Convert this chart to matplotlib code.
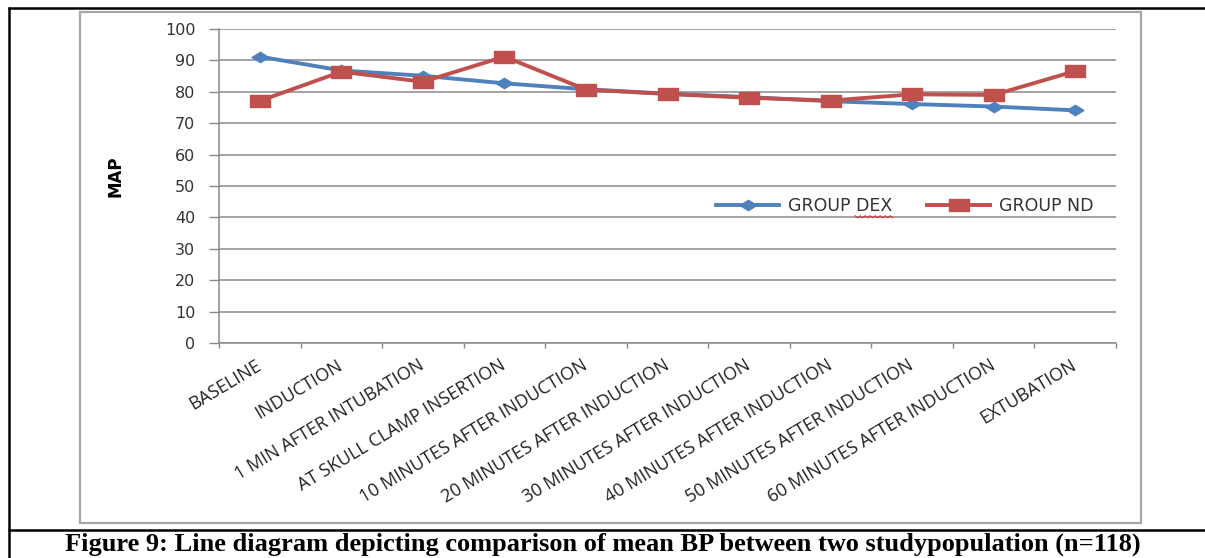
import numpy as np
import matplotlib
matplotlib.use("Agg")
import matplotlib.pyplot as plt
from matplotlib.path import Path
from matplotlib.lines import Line2D
from matplotlib.patches import Rectangle

# mean arterial pressure at each time point
stages = [
    "BASELINE",
    "INDUCTION",
    "1 MIN AFTER INTUBATION",
    "AT SKULL CLAMP INSERTION",
    "10 MINUTES AFTER INDUCTION",
    "20 MINUTES AFTER INDUCTION",
    "30 MINUTES AFTER INDUCTION",
    "40 MINUTES AFTER INDUCTION",
    "50 MINUTES AFTER INDUCTION",
    "60 MINUTES AFTER INDUCTION",
    "EXTUBATION",
]
group_dex = [91.2, 86.8, 85.1, 82.7, 80.8, 79.4, 78.3, 77.0, 76.1, 75.3, 74.1]
group_nd = [77.1, 86.4, 83.2, 91.2, 80.7, 79.3, 78.1, 77.2, 79.2, 79.0, 86.6]
y_ticks = list(range(0, 101, 10))

BLUE = "#4F81BD"
RED = "#C0504D"
GRID = "#8a8a8a"

# wide diamond and wide square markers
diamond = Path([(-1, 0), (0, 0.62), (1, 0), (0, -0.62), (-1, 0)],
               [Path.MOVETO, Path.LINETO, Path.LINETO, Path.LINETO, Path.CLOSEPOLY])
square = Path([(-1, -0.55), (1, -0.55), (1, 0.55), (-1, 0.55), (-1, -0.55)],
              [Path.MOVETO, Path.LINETO, Path.LINETO, Path.LINETO, Path.CLOSEPOLY])

fig = plt.figure(figsize=(12.05, 5.58), dpi=100)
ax = fig.add_axes([219 / 1205, 1 - 343 / 558, 897 / 1205, 314 / 558])

x = np.arange(len(stages))
ax.plot(x, group_dex, color=BLUE, lw=2.8, marker=diamond, ms=12,
        mec=BLUE, mfc=BLUE, label="GROUP DEX", zorder=3)
ax.plot(x, group_nd, color=RED, lw=2.8, marker=square, ms=15,
        mec=RED, mfc=RED, label="GROUP ND", zorder=4)

ax.set_xlim(-0.5, len(stages) - 0.5)
ax.set_ylim(0, 100)
ax.set_yticks(y_ticks)
ax.set_yticklabels([str(v) for v in y_ticks], fontsize=11.5, color="#333333")
ax.yaxis.grid(True, color=GRID, lw=1.1)
ax.set_axisbelow(True)
ax.tick_params(axis="y", length=7, width=1, color=GRID, pad=10)

# category labels at centres, tick marks at boundaries
ax.set_xticks(x)
ax.set_xticklabels(stages, rotation=31, ha="right", va="center",
                   rotation_mode="anchor", fontsize=13, family="Open Sans",
                   color="#222222")
ax.tick_params(axis="x", which="major", length=0, pad=15)
ax.set_xticks(np.arange(len(stages) + 1) - 0.5, minor=True)
ax.tick_params(axis="x", which="minor", length=3.6, width=1, color=GRID)

for side in ["top", "right"]:
    ax.spines[side].set_visible(False)
for side in ["left", "bottom"]:
    ax.spines[side].set_color(GRID)
    ax.spines[side].set_linewidth(1.1)

ax.set_ylabel("MAP", fontsize=12, fontweight="bold")
ax.yaxis.set_label_coords(-0.105, 0.53)

leg = ax.legend(loc="center", bbox_to_anchor=(0.765, 0.437), ncol=2,
                frameon=False, fontsize=12.5, handlelength=3.6,
                handletextpad=0.55, columnspacing=2.0)
for t in leg.get_texts():
    t.set_color("#333333")

# chart area frame
fig.add_artist(Rectangle((80 / 1205, 1 - 523 / 558), 1061 / 1205, 511 / 558,
                         transform=fig.transFigure, fill=False,
                         edgecolor="#a6a6a6", lw=1.6))

# table borders around the figure and caption
fig.add_artist(Line2D([8 / 1205, 1], [1 - 7.5 / 558, 1 - 7.5 / 558],
                      transform=fig.transFigure, color="black", lw=1.8,
                      solid_capstyle="butt"))
fig.add_artist(Line2D([9 / 1205, 9 / 1205], [1 - 7 / 558, 0],
                      transform=fig.transFigure, color="black", lw=1.8,
                      solid_capstyle="butt"))
fig.add_artist(Line2D([8 / 1205, 1], [1 - 529.5 / 558, 1 - 529.5 / 558],
                      transform=fig.transFigure, color="black", lw=1.8,
                      solid_capstyle="butt"))

fig.text(0.5, 1 - 544 / 558,
         "Figure 9: Line diagram depicting comparison of mean BP between two studypopulation (n=118)",
         ha="center", va="center", fontsize=19, fontweight="bold",
         family="Liberation Serif")

# spell-check squiggle under "DEX"
fig.canvas.draw()
bb = leg.get_texts()[0].get_window_extent()
x0 = bb.x0 + bb.width * 0.64
x1 = bb.x1
xs = np.linspace(x0, x1, 16)
ys = bb.y0 - 1 + np.where(np.arange(16) % 2 == 0, 0, -2)
fig.add_artist(Line2D(xs / fig.bbox.width, ys / fig.bbox.height,
                      transform=fig.transFigure, color="#d03030", lw=0.8))

fig.savefig("out.png", dpi=100)
